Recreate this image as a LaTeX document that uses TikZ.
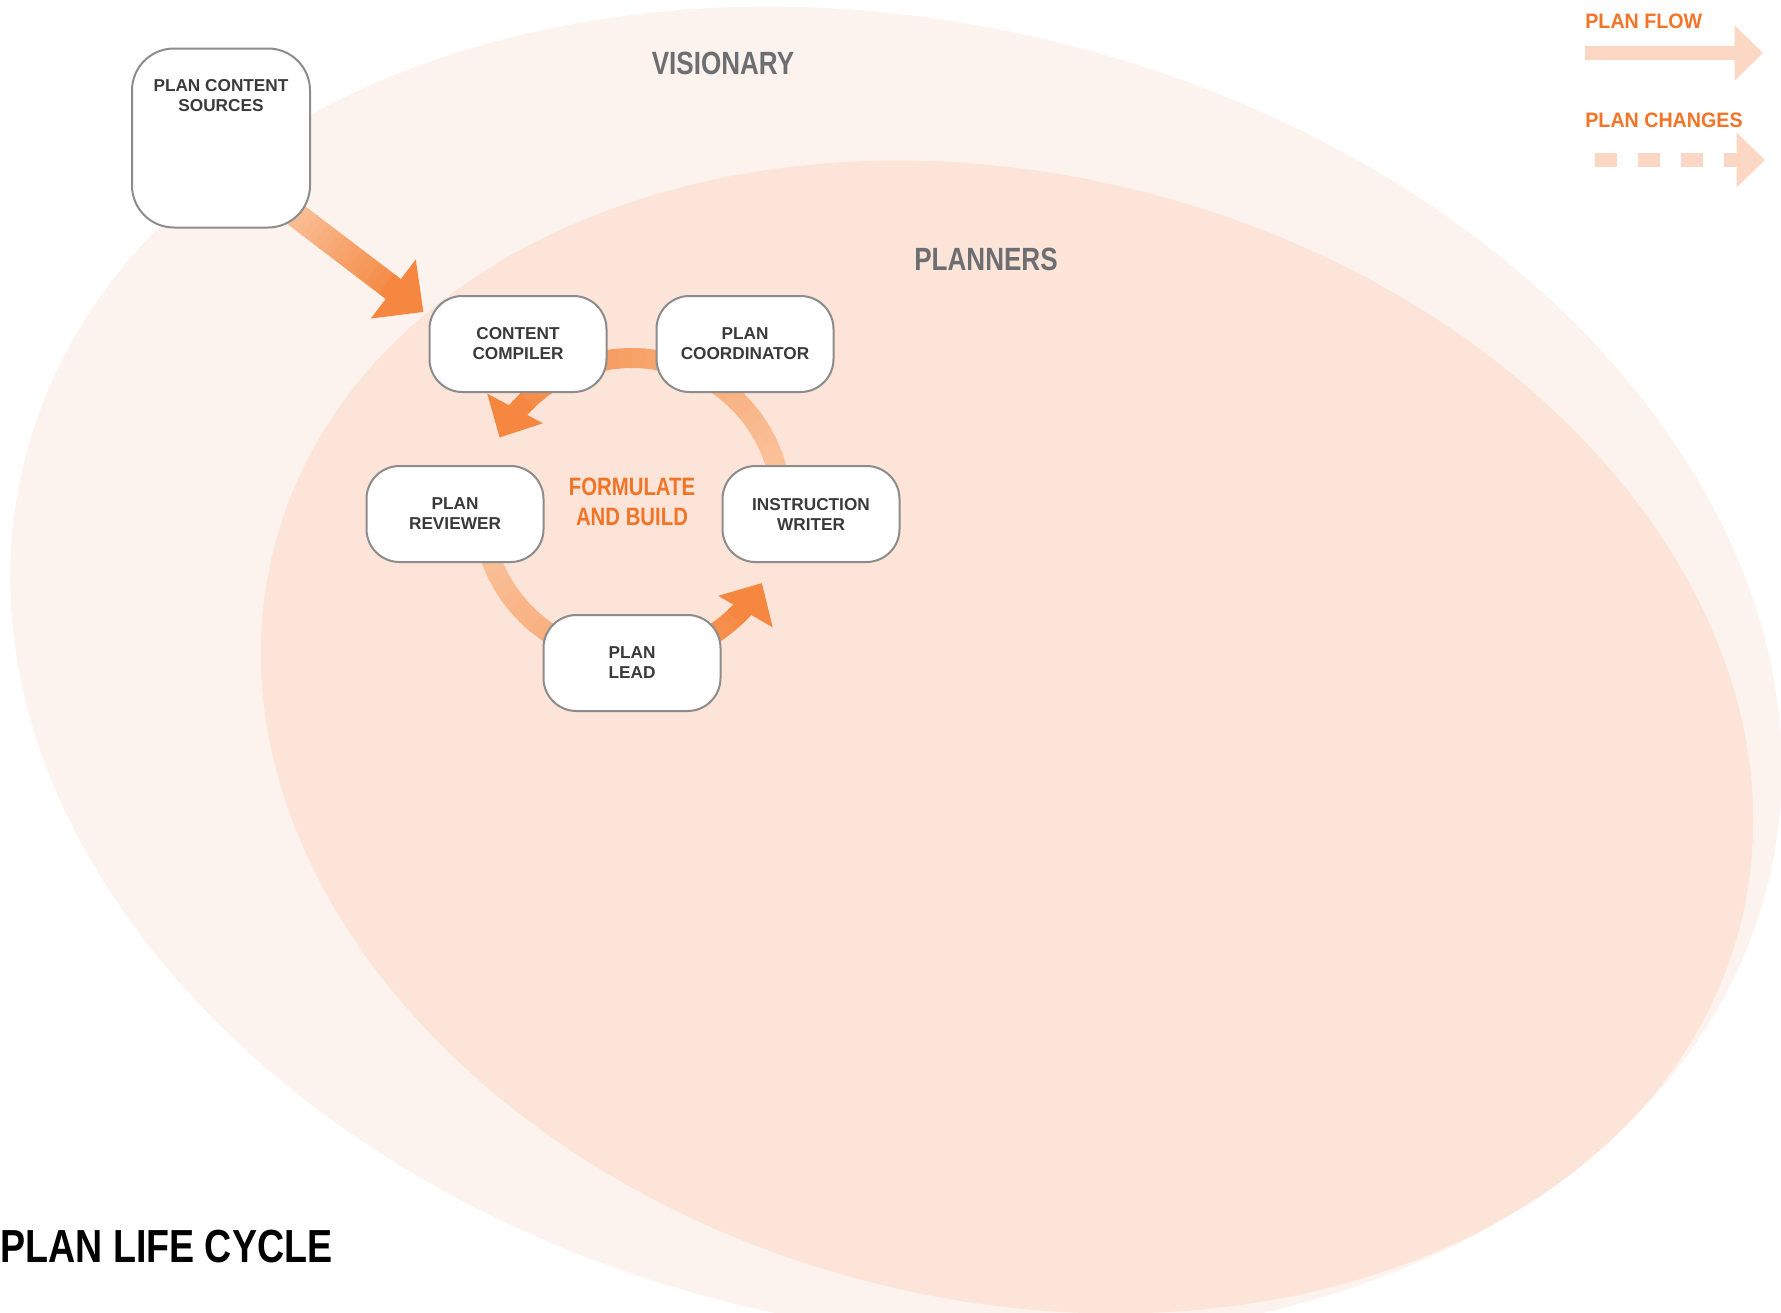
\documentclass[tikz,border=0pt]{standalone}
\usepackage{xcolor}
\usepackage{fontspec}
\setmainfont{Liberation Sans}
\newfontfamily\condfont{Liberation Sans}[FakeStretch=0.81]
\newfontfamily\legendfont{Liberation Sans}[FakeStretch=0.94]
\usepackage{tikz}
\usetikzlibrary{arrows.meta,positioning,calc}
\definecolor{visfill}{HTML}{FDF3EE}
\definecolor{planfill}{HTML}{FCE4D8}
\definecolor{boxline}{HTML}{8C8C8C}
\definecolor{boxtext}{HTML}{3A3A3A}
\definecolor{headgray}{HTML}{6D6E71}
\definecolor{accent}{HTML}{F37327}
\definecolor{flowlight}{HTML}{FAC5A0}
\definecolor{flowdark}{HTML}{F58740}
\definecolor{legendfill}{HTML}{FCD8C4}
\newcommand\boxfont{\bfseries\fontsize{9.8}{11.4}\selectfont}
\pgfdeclarelayer{back}
\pgfdeclarelayer{flow}
\pgfsetlayers{back,flow,main}
\tikzset{
  rolebox/.style={
    rectangle, rounded corners=6.6mm, draw=boxline, line width=0.4mm,
    fill=white, minimum width=35.4mm, minimum height=19.2mm,
    inner sep=0pt, align=center, text=boxtext, font=\boxfont
  },
  srcbox/.style={rolebox, rounded corners=8.4mm,
    minimum width=35.6mm, minimum height=35.8mm},
  boxlabel/.style={inner sep=0pt, align=center, text=boxtext, font=\boxfont},
  zonelabel/.style={inner sep=0pt, anchor=base, text=headgray,
    font=\condfont\bfseries\fontsize{18.3}{20}\selectfont},
  cyclelabel/.style={inner sep=0pt, align=center, text=accent,
    font=\condfont\bfseries\fontsize{14.3}{17.1}\selectfont},
  legendlabel/.style={inner sep=0pt, anchor=base west, text=accent,
    font=\legendfont\bfseries\fontsize{11.9}{13}\selectfont},
  titlelabel/.style={inner sep=0pt, anchor=base west, text=black,
    font=\condfont\bfseries\fontsize{26.4}{30}\selectfont},
  cyclearc/.style={line width=4mm},
  feedshaft/.style={line width=5mm},
  legendarrow/.style={draw=legendfill, line width=2.8mm,
    -{Triangle[length=5.7mm, width=10.7mm]}},
}

\begin{document}
\begin{tikzpicture}[x=0.2mm, y=-0.2mm]
  \useasboundingbox (0,0) rectangle (1781,1312);

  % zones
  \begin{pgfonlayer}{back}
    \fill[visfill] (896,673) ellipse [x radius=897, y radius=651, rotate=-13.3];
    \fill[planfill] (1007,737) ellipse [x radius=757, y radius=562, rotate=-14.6];
  \end{pgfonlayer}
  \node[zonelabel] (vis) at (723,74) {VISIONARY};
  \node[zonelabel] (plan) at (986,270) {PLANNERS};

  % roles
  \node[srcbox] (src) at (221,138) {};
  \node[boxlabel, anchor=north] (srclbl) at ($(src.north)+(0,32)$) {PLAN CONTENT\\SOURCES};
  \node[rolebox] (comp) at (518,344) {CONTENT\\COMPILER};
  \node[rolebox, right=9.6mm of comp] (coord) {PLAN\\COORDINATOR};
  \node[rolebox] (rev) at (455,514) {PLAN\\REVIEWER};
  \node[rolebox, right=35.4mm of rev] (writer) {INSTRUCTION\\WRITER};
  \node[rolebox] (lead) at (632,663) {PLAN\\LEAD};

  \coordinate (cyc) at (632,508);
  \node[cyclelabel] (fab) at (632,502) {FORMULATE\\AND BUILD};

  \begin{pgfonlayer}{flow}
    % sources feed the compiler
    \coordinate (srcout) at ($(src.south east)+(-30,-25)$);
    \coordinate (compin) at ($(comp.north west)+(-5,17)$);
    \foreach \pos in {0,0.04,...,0.72}{
      \pgfmathtruncatemacro\mixv{\pos*100/0.78}
      \draw[feedshaft, draw=flowdark!\mixv!flowlight]
        ($(srcout)!\pos!(compin)$) -- ($(srcout)!\pos+0.045!(compin)$);
    }
    \draw[feedshaft, draw=flowdark, -{Triangle[length=7.6mm, width=14.4mm]}]
      ($(srcout)!0.74!(compin)$) -- (compin);

    % cycle: writer -> coordinator -> compiler -> reviewer
    \foreach \ang in {355,350,...,230}{
      \pgfmathtruncatemacro\mixv{(355-\ang)*100/140}
      \draw[cyclearc, draw=flowdark!\mixv!flowlight]
        ($(cyc)+(\ang:150)$) arc[start angle=\ang, end angle=\ang-5.6, radius=150];
    }
    \draw[cyclearc, draw=flowdark, -{Triangle[length=6.6mm, width=12.2mm]}]
      ($(cyc)+(226:150)$) arc[start angle=226, end angle=208, radius=150];

    % cycle: reviewer -> lead -> writer
    \foreach \ang in {175,170,...,50}{
      \pgfmathtruncatemacro\mixv{(175-\ang)*100/135}
      \draw[cyclearc, draw=flowdark!\mixv!flowlight]
        ($(cyc)+(\ang:150)$) arc[start angle=\ang, end angle=\ang-5.6, radius=150];
    }
    \draw[cyclearc, draw=flowdark, -{Triangle[length=6.6mm, width=12.2mm]}]
      ($(cyc)+(47:150)$) arc[start angle=47, end angle=30, radius=150];
  \end{pgfonlayer}

  % legend
  \node[legendlabel] (flowlbl) at (1585,28) {PLAN FLOW};
  \coordinate (flowfrom) at (1585,53);
  \coordinate (flowto) at (1763,53);
  \draw[legendarrow] (flowfrom) -- (flowto);
  \node[legendlabel] (chglbl) at (1585,127) {PLAN CHANGES};
  \coordinate (chgfrom) at (1595,160);
  \coordinate (chgto) at (1765,160);
  \draw[legendarrow, dash pattern=on 4.4mm off 4.2mm] (chgfrom) -- (chgto);

  \node[titlelabel] (title) at (0,1262) {PLAN LIFE CYCLE};
\end{tikzpicture}
\end{document}
